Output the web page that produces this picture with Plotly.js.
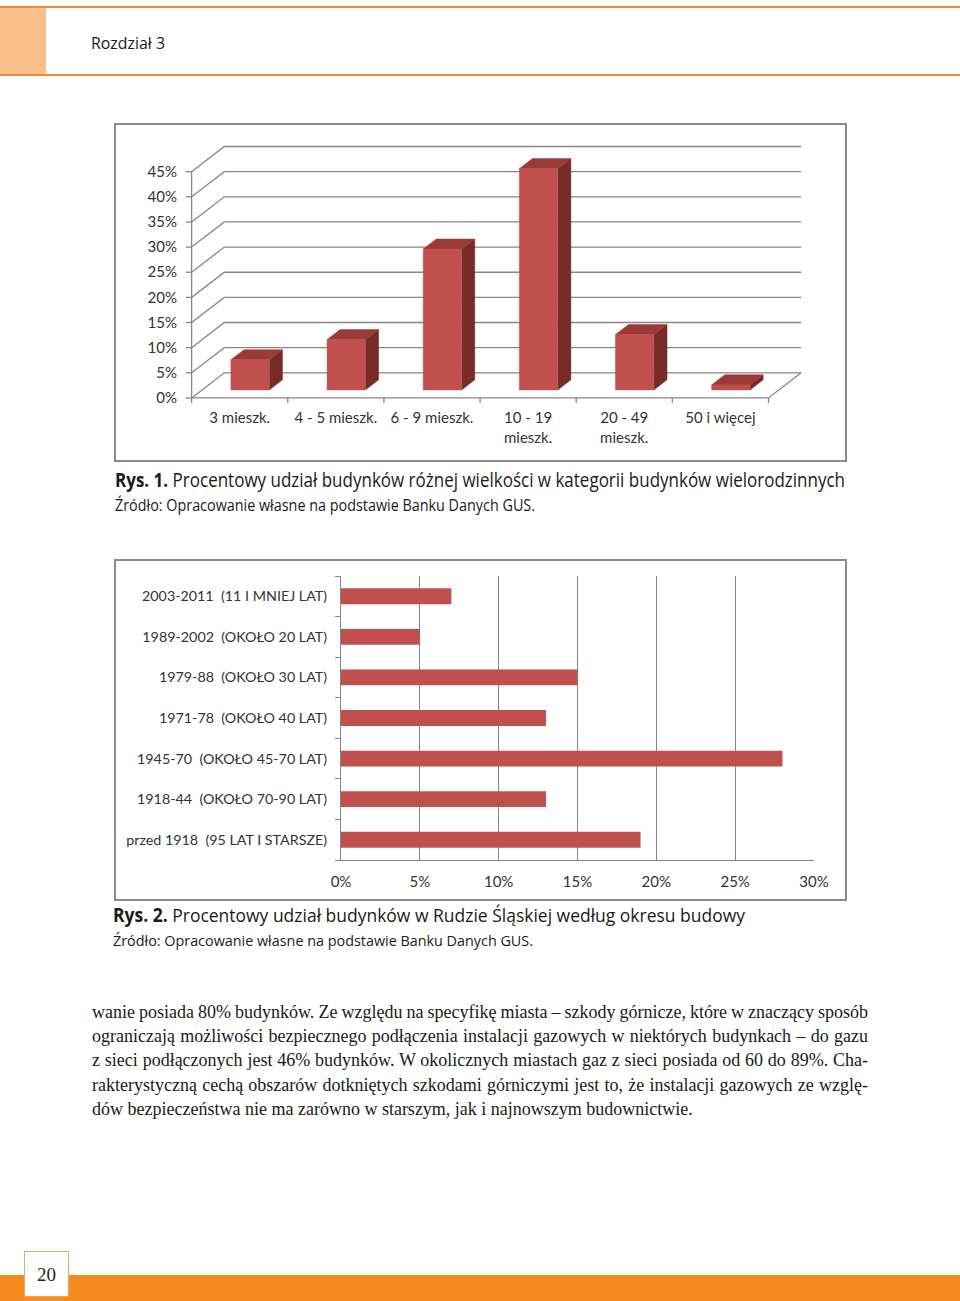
<!DOCTYPE html>
<html>
<head>
<meta charset="utf-8">
<script src="https://cdn.plot.ly/plotly-3.0.1.min.js"></script>
<style>
  body { margin: 0; background: #fff; }
  #page { position: relative; width: 960px; height: 1301px; overflow: hidden; background: #fff; }
  .abs { position: absolute; }
  .fit { white-space: nowrap; transform-origin: 0 50%; display: inline-block; }
  .frame { position: absolute; border: 2px solid #8a8a8a; box-sizing: border-box; }
  .cap { font-family: "Open Sans", sans-serif; color: #1a1a1a; }
  .body-line { position: absolute; left: 92px; width: 776px; height: 24px; line-height: 24px;
               font-family: "Liberation Serif", serif; font-size: 18px; color: #1a1a1a; white-space: nowrap; }
  .body-line span { display: inline-block; white-space: nowrap; }
</style>
</head>
<body>
<div id="page">
  <!-- header -->
  <div class="abs" style="left:0;top:6px;width:960px;height:2px;background:#e98b3a"></div>
  <div class="abs" style="left:0;top:8px;width:46px;height:66px;background:#fbbf8a"></div>
  <div class="abs" style="left:0;top:74px;width:960px;height:2px;background:#e98b3a"></div>
  <div class="abs cap" style="left:91px;top:33px;height:20px;line-height:20px;font-size:17px">
    <span class="fit" data-w="74">Rozdział 3</span></div>

  <!-- chart 1 -->
  <div class="frame" style="left:114px;top:123px;width:733px;height:339px"></div>
  <div id="plot1" class="abs" style="left:115px;top:124px;width:731px;height:337px"></div>
  <div class="abs cap" style="left:115px;top:469px;height:22px;line-height:22px;font-size:20px">
    <span class="fit" data-w="730"><b>Rys. 1.</b> Procentowy udział budynków różnej wielkości w kategorii budynków wielorodzinnych</span></div>
  <div class="abs cap" style="left:115px;top:496px;height:18px;line-height:18px;font-size:16px">
    <span class="fit" data-w="420">Źródło: Opracowanie własne na podstawie Banku Danych GUS.</span></div>

  <!-- chart 2 -->
  <div class="frame" style="left:114px;top:559px;width:733px;height:342px"></div>
  <div id="plot2" class="abs" style="left:115px;top:560px;width:731px;height:340px"></div>
  <div class="abs cap" style="left:113px;top:904px;height:22px;line-height:22px;font-size:19px">
    <span class="fit" data-w="632"><b>Rys. 2.</b> Procentowy udział budynków w Rudzie Śląskiej według okresu budowy</span></div>
  <div class="abs cap" style="left:113px;top:931px;height:18px;line-height:18px;font-size:15px">
    <span class="fit" data-w="420">Źródło: Opracowanie własne na podstawie Banku Danych GUS.</span></div>

  <!-- body text -->
  <div class="body-line" style="top:1000px"><span>wanie posiada 80% budynków. Ze względu na specyfikę miasta – szkody górnicze, które w znaczący sposób</span></div>
  <div class="body-line" style="top:1024px"><span>ograniczają możliwości bezpiecznego podłączenia instalacji gazowych w niektórych budynkach – do gazu</span></div>
  <div class="body-line" style="top:1048px"><span>z sieci podłączonych jest 46% budynków. W okolicznych miastach gaz z sieci posiada od 60 do 89%. Cha-</span></div>
  <div class="body-line" style="top:1073px"><span>rakterystyczną cechą obszarów dotkniętych szkodami górniczymi jest to, że instalacji gazowych ze wzglę-</span></div>
  <div class="body-line last" style="top:1097px"><span>dów bezpieczeństwa nie ma zarówno w starszym, jak i najnowszym budownictwie.</span></div>

  <!-- footer -->
  <div class="abs" style="left:0;top:1275px;width:960px;height:26px;background:#f58a1f"></div>
  <div class="abs" style="left:24px;top:1251px;width:45px;height:46px;background:#fff;border:1.5px solid #f0a560;box-sizing:border-box;
       font-family:'Liberation Serif',serif;font-size:19px;line-height:46px;text-align:center;color:#222">20</div>
</div>

<script>
// --- data: Rys. 1 ---
var sizeCats = ['3 mieszk.', '4 - 5 mieszk.', '6 - 9 mieszk.', '10 - 19<br>mieszk.', '20 - 49<br>mieszk.', '50 i więcej'];
var sizeShare = [6, 10, 28, 44, 11, 1];
var sizeTicks = [0, 5, 10, 15, 20, 25, 30, 35, 40, 45];

// --- data: Rys. 2 ---
var periodCats = ['2003-2011  (11 I MNIEJ LAT)', '1989-2002  (OKOŁO 20 LAT)', '1979-88  (OKOŁO 30 LAT)',
                  '1971-78  (OKOŁO 40 LAT)', '1945-70  (OKOŁO 45-70 LAT)', '1918-44  (OKOŁO 70-90 LAT)',
                  'przed 1918  (95 LAT I STARSZE)'];
var periodShare = [7, 5, 15, 13, 28, 13, 19];
var periodTicks = [0, 5, 10, 15, 20, 25, 30];

var RED = '#c0504d', RED_TOP = '#9b3a37', RED_SIDE = '#772b29', GRID = '#868686';
var FONT = 'Lato, "Open Sans", sans-serif';

function plotSizes() {
    // fake 3D: depth offset in axis units
    var DX = 0.34, DY = 5;
    var DF = 0.32, BD = 0.4, BW = 0.4;
    var n = sizeCats.length;
    var data = [];

    var gx = [], gy = [];
    sizeTicks.forEach(k => {
        gx.push(-0.5, -0.5 + DX, n - 0.5 + DX, null);
        gy.push(k, k + DY, k + DY, null);
    });
    // front axis and floor
    gx.push(-0.5, -0.5, null, -0.5, n - 0.5, n - 0.5 + DX, null);
    gy.push(sizeTicks[sizeTicks.length - 1], 0, null, 0, 0, DY, null);
    // tick marks
    sizeTicks.forEach(k => { gx.push(-0.56, -0.5, null); gy.push(k, k, null); });
    for (var b = 0; b <= n; b++) { gx.push(b - 0.5, b - 0.5, null); gy.push(0, -1, null); }
    data.push({x: gx, y: gy, mode: 'lines', line: {color: GRID, width: 1.3}, hoverinfo: 'skip', type: 'scatter'});

    var fx = [], fy = [], tx = [], ty = [], sx = [], sy = [];
    sizeShare.forEach((v, i) => {
        var x0 = i - BW / 2 + DF * DX, x1 = i + BW / 2 + DF * DX;
        var y0 = DF * DY, y1 = v + DF * DY;
        var ox = BD * DX, oy = BD * DY;
        fx.push(x0, x1, x1, x0, x0, null); fy.push(y0, y0, y1, y1, y0, null);
        tx.push(x0, x1, x1 + ox, x0 + ox, x0, null); ty.push(y1, y1, y1 + oy, y1 + oy, y1, null);
        sx.push(x1, x1 + ox, x1 + ox, x1, x1, null); sy.push(y0, y0 + oy, y1 + oy, y1, y0, null);
    });
    [[sx, sy, RED_SIDE], [tx, ty, RED_TOP], [fx, fy, RED]].forEach(f => {
        data.push({x: f[0], y: f[1], mode: 'lines', fill: 'toself', fillcolor: f[2],
                   line: {color: f[2], width: 0.5}, hoverinfo: 'skip', type: 'scatter'});
    });

    var layout = {
        width: 731, height: 337,
        margin: {l: 67, r: 41, t: 21, b: 56},
        paper_bgcolor: 'rgba(0,0,0,0)', plot_bgcolor: 'rgba(0,0,0,0)',
        showlegend: false,
        font: {family: FONT, size: 15, color: '#333'},
        xaxis: {
            range: [-0.6, n - 0.5 + 0.38], showgrid: false, zeroline: false, showline: false,
            tickmode: 'array', tickvals: sizeCats.map((c, i) => i), ticktext: sizeCats,
            ticks: '', ticklabelstandoff: 2, fixedrange: true
        },
        yaxis: {
            range: [-1.4, 50.3], showgrid: false, zeroline: false, showline: false,
            tickmode: 'array', tickvals: sizeTicks, ticktext: sizeTicks.map(t => t + '%'),
            ticks: '', ticklabelstandoff: 4, fixedrange: true
        }
    };
    Plotly.newPlot('plot1', data, layout, {staticPlot: true});
}

function plotPeriods() {
    var data = [{
        type: 'bar', orientation: 'h',
        x: periodShare, y: periodCats,
        marker: {color: RED}, hoverinfo: 'skip'
    }];
    var layout = {
        width: 731, height: 340,
        margin: {l: 226, r: 32, t: 16, b: 40},
        paper_bgcolor: 'rgba(0,0,0,0)', plot_bgcolor: 'rgba(0,0,0,0)',
        bargap: 0.61,
        font: {family: FONT, size: 15, color: '#333'},
        xaxis: {
            range: [0, 30], tickmode: 'array', tickvals: periodTicks, ticktext: periodTicks.map(t => t + '%'),
            showgrid: true, gridcolor: GRID, gridwidth: 1, zeroline: false,
            showline: true, linecolor: GRID, linewidth: 1, ticks: '', ticklabelstandoff: 8, fixedrange: true
        },
        yaxis: {
            type: 'category', autorange: 'reversed',
            tickvals: periodCats, ticktext: periodCats.map(c => c.replace('  ', '\u00a0 ')),
            tickfont: {size: 14.3},
            tickson: 'boundaries', ticks: 'outside', ticklen: 5, tickcolor: GRID,
            showline: true, linecolor: GRID, linewidth: 1, showgrid: false,
            ticklabelstandoff: 10, fixedrange: true
        }
    };
    Plotly.newPlot('plot2', data, layout, {staticPlot: true});
}

function fitText() {
    document.querySelectorAll('.fit').forEach(el => {
        var w = el.getBoundingClientRect().width;
        var target = parseFloat(el.getAttribute('data-w'));
        if (w > 0) el.style.transform = 'scaleX(' + (target / w) + ')';
    });
    // justify body lines via word spacing (last line stays ragged)
    document.querySelectorAll('.body-line:not(.last) span').forEach(el => {
        var w = el.getBoundingClientRect().width;
        var gaps = (el.textContent.match(/ /g) || []).length;
        if (gaps > 0) el.style.wordSpacing = ((776 - w) / gaps) + 'px';
    });
}

plotSizes();
plotPeriods();
fitText();
</script>
</body>
</html>
